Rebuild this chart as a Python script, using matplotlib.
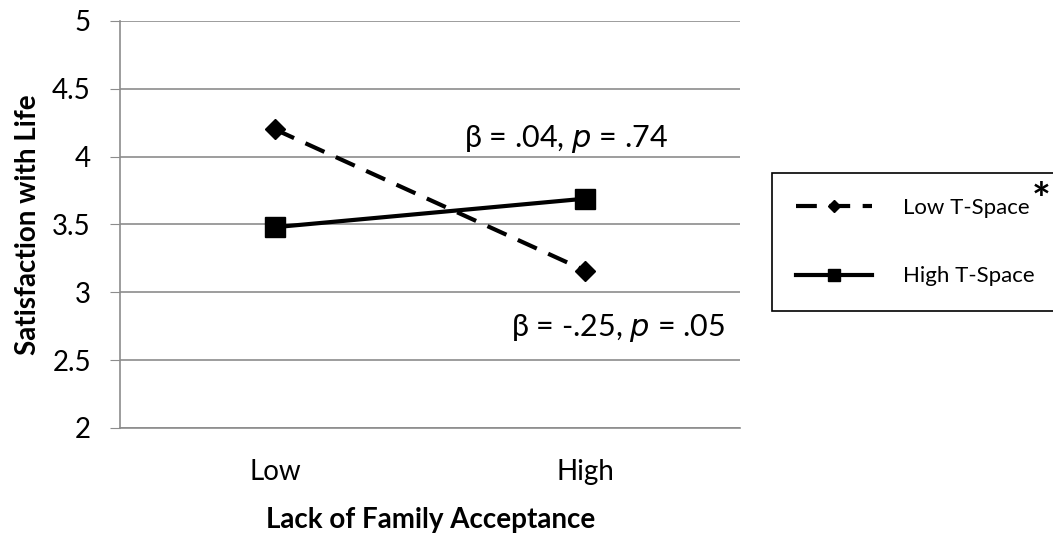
import matplotlib.pyplot as plt

plt.rcParams['font.family'] = ['Lato', 'DejaVu Sans']

categories = ['Low', 'High']
low_tspace = [4.2, 3.16]
high_tspace = [3.48, 3.69]
yticks = [2, 2.5, 3, 3.5, 4, 4.5, 5]

fig = plt.figure(figsize=(10.53, 5.36), dpi=100)
ax = fig.add_axes([0.114, 0.2015, 0.589, 0.7595])

x = range(len(categories))
ax.plot(x, low_tspace, color='black', linestyle=(0, (5, 3)), linewidth=3,
        marker='D', markersize=10, label='Low T-Space')
ax.plot(x, high_tspace, color='black', linestyle='-', linewidth=3,
        marker='s', markersize=14, label='High T-Space')

ax.set_xlim(-0.5, 1.5)
ax.set_ylim(2, 5)
ax.set_yticks(yticks)
ax.set_yticklabels(['2', '2.5', '3', '3.5', '4', '4.5', '5'])
ax.set_xticks(list(x))
ax.set_xticklabels(categories)
ax.grid(axis='y', color='#8c8c8c', linewidth=1.2)
ax.set_axisbelow(True)
for s in ['top', 'right']:
    ax.spines[s].set_visible(False)
ax.spines['left'].set_color('#8c8c8c')
ax.spines['bottom'].set_color('#8c8c8c')
ax.spines['left'].set_linewidth(1.2)
ax.spines['bottom'].set_linewidth(1.2)
ax.tick_params(axis='y', length=7, color='#8c8c8c', labelsize=20, pad=14)
ax.tick_params(axis='x', length=0, labelsize=20, pad=22)

ax.set_ylabel('Satisfaction with Life', fontsize=20, fontweight='bold', labelpad=8)
ax.set_xlabel('Lack of Family Acceptance', fontsize=20, fontweight='bold', labelpad=16)

ax.text(0.61, 4.13, r'β = .04, $\it{p}$ = .74', fontsize=22, ha='left', va='center')
ax.text(0.76, 2.74, r'β = -.25, $\it{p}$ = .05', fontsize=22, ha='left', va='center')

leg = fig.legend(loc='upper left', bbox_to_anchor=(0.733, 0.677), fontsize=16,
                 frameon=True, fancybox=False, edgecolor='black', handlelength=3.4,
                 labelspacing=2.2, borderpad=1.1, markerscale=0.6, borderaxespad=0,
                 handletextpad=1.4, framealpha=1)
leg.get_frame().set_linewidth(1.2)
fig.text(0.989, 0.625, '*', fontsize=32, ha='center', va='center', fontweight='bold',
         zorder=10)

fig.savefig('out.png', dpi=100)
